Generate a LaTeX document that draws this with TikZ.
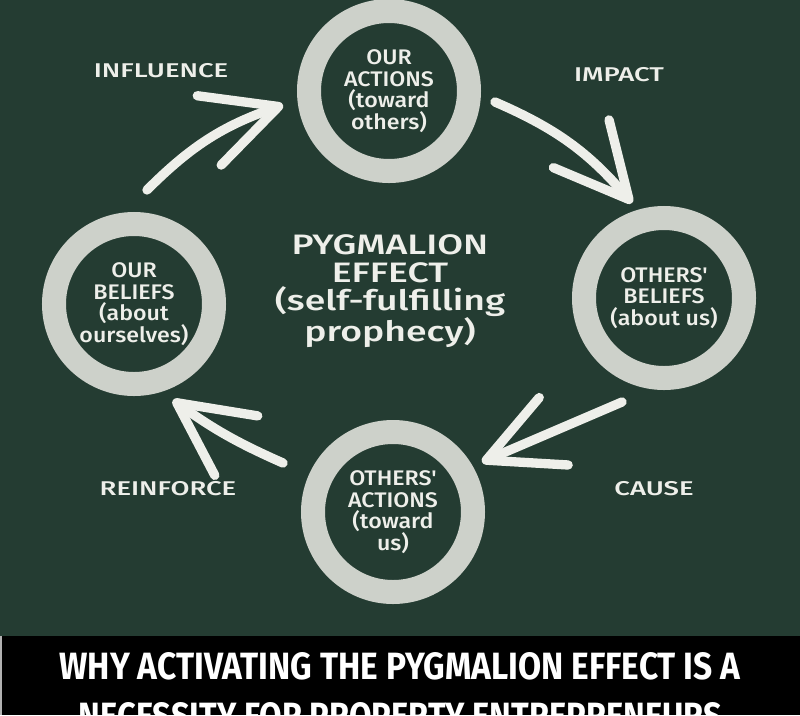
\documentclass[tikz,border=0pt]{standalone}
\usepackage{graphicx}
\usepackage{fontspec}
\setmainfont{Fira Sans}
\newfontfamily\ringfont{Fira Sans Medium}[FakeStretch=1.1]
\newfontfamily\labelfont{Fira Sans Medium}[FakeStretch=1.38]
\newfontfamily\centerfont{Fira Sans Medium}[FakeStretch=1.33]
\usetikzlibrary{arrows.meta,calc}
\definecolor{boardgreen}{HTML}{243C32}
\definecolor{chalkwhite}{HTML}{EEEFEA}
\definecolor{ringchalk}{HTML}{CDD1CA}
\tikzset{
  ring/.style={
    circle,
    draw=ringchalk,
    line width=0.72cm,
    minimum size=4.8cm,
    inner sep=0pt,
    align=center,
    text=chalkwhite,
    font=\ringfont\fontsize{18}{18.3}\selectfont
  },
  chalklabel/.style={
    text=chalkwhite,
    inner sep=0pt,
    font=\labelfont\fontsize{17}{17}\selectfont
  },
  centertext/.style={
    text=chalkwhite,
    align=center,
    inner sep=0pt,
    font=\centerfont\fontsize{24}{24}\selectfont
  },
  titletext/.style={
    text=white,
    inner sep=0pt,
    font=\bfseries
  },
  chalkarrow/.style={
    draw=chalkwhite,
    line width=0.28cm,
    line cap=round,
    -{Straight Barb[length=2.2cm, width=2.2cm, round]}
  }
}

\begin{document}
\begin{tikzpicture}[x=0.03cm, y=-0.03cm]
\useasboundingbox (0,0) rectangle (800,715);
\clip (0,0) rectangle (800,715);
% board and title band
\fill[boardgreen] (0,0) rectangle (800,636);
\fill[black] (0,636) rectangle (800,715);
\fill[gray!60] (0,636) rectangle (2,715);

% the four steps
\node[ring] (ouractions) at (389,91) {OUR\\ACTIONS\\(toward\\others)};
\node[ring] (othersbeliefs) at (664,298) {OTHERS'\\BELIEFS\\(about us)};
\node[ring] (othersactions) at (393,512) {OTHERS'\\ACTIONS\\(toward\\us)};
\node[ring] (ourbeliefs) at (134,304) {OUR\\BELIEFS\\(about\\ourselves)};

\node[centertext] (pygmalion) at (390,291) {PYGMALION\\EFFECT\\(self-fulfilling\\prophecy)};

% labels
\node[chalklabel] (influence) at (161,71) {INFLUENCE};
\node[chalklabel] (impact) at (619,75) {IMPACT};
\node[chalklabel] (cause) at (654,489) {CAUSE};
\node[chalklabel] (reinforce) at (168,489) {REINFORCE};

% arrow ends
\coordinate (inflfrom) at ($(ourbeliefs)+(13,-114)$);
\coordinate (inflto) at ($(ouractions)+(-106,14)$);
\coordinate (impfrom) at ($(ouractions)+(106,11)$);
\coordinate (impto) at ($(othersbeliefs)+(-32,-95)$);
\coordinate (causefrom) at ($(othersbeliefs)+(-42,104)$);
\coordinate (causeto) at ($(othersactions)+(89,-50)$);
\coordinate (reinffrom) at ($(othersactions)+(-110,-49)$);
\coordinate (reinfto) at ($(ourbeliefs)+(39,96)$);

\draw[chalkarrow] (inflfrom) to[bend left=13] (inflto);
\draw[chalkarrow] (impfrom) to[bend left=13] (impto);
\draw[chalkarrow] (causefrom) -- (causeto);
\draw[chalkarrow] (reinffrom) to[bend left=6] (reinfto);

% title
\node[titletext] (titleone) at (400,666.5) {\resizebox{20.43cm}{0.81cm}{WHY ACTIVATING THE PYGMALION EFFECT IS A}};
\node[titletext] (titletwo) at (400.5,716.5) {\resizebox{19.29cm}{0.81cm}{NECESSITY FOR PROPERTY ENTREPRENEURS}};
\end{tikzpicture}
\end{document}
